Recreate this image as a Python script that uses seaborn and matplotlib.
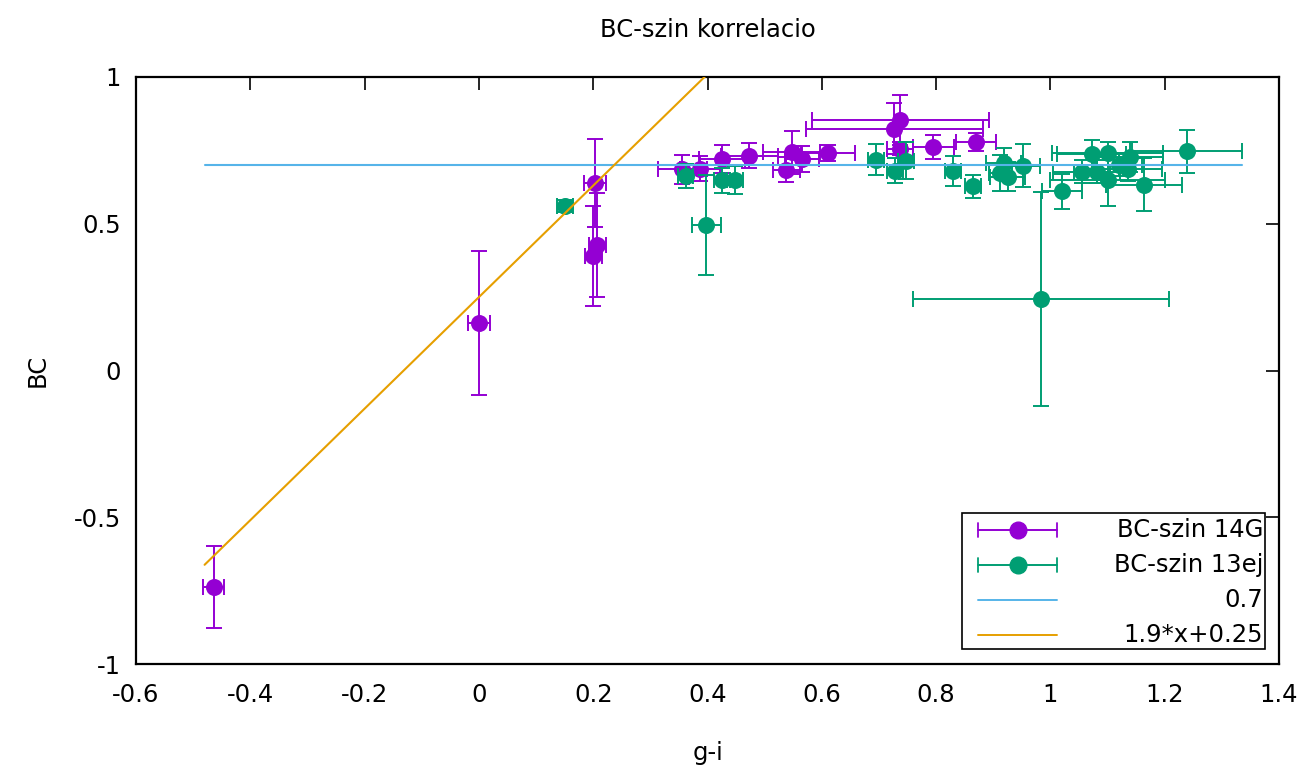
import numpy as np
import matplotlib
matplotlib.use("Agg")
import matplotlib.pyplot as plt
import seaborn as sns
import pandas as pd
from matplotlib.lines import Line2D
from matplotlib.patches import Rectangle

# ---------------- data ----------------
g14_x = [-0.464, 0.000, 0.203, 0.207, 0.200, 0.356, 0.387, 0.426, 0.473, 0.547,
         0.538, 0.565, 0.611, 0.737, 0.727, 0.737, 0.795, 0.870]
g14_y = [-0.737, 0.163, 0.639, 0.429, 0.389, 0.686, 0.688, 0.721, 0.732, 0.743,
         0.684, 0.721, 0.741, 0.855, 0.824, 0.756, 0.762, 0.779]
g14_xerr = [0.018, 0.019, 0.019, 0.015, 0.015, 0.043, 0.035, 0.040, 0.050, 0.050,
            0.023, 0.030, 0.047, 0.155, 0.155, 0.023, 0.036, 0.035]
g14_yerr = [0.140, 0.245, 0.150, 0.177, 0.170, 0.049, 0.044, 0.048, 0.043, 0.074,
            0.042, 0.043, 0.027, 0.085, 0.088, 0.023, 0.041, 0.030]

g13_x = [0.150, 0.362, 0.398, 0.425, 0.448, 0.695, 0.728, 0.748, 0.830, 0.865,
         0.912, 0.918, 0.925, 0.952, 0.983, 1.020, 1.055, 1.072, 1.081, 1.100,
         1.100, 1.120, 1.136, 1.139, 1.164, 1.239]
g13_y = [0.561, 0.662, 0.497, 0.648, 0.650, 0.718, 0.681, 0.715, 0.681, 0.627,
         0.673, 0.707, 0.660, 0.698, 0.243, 0.610, 0.678, 0.736, 0.678, 0.650,
         0.740, 0.701, 0.687, 0.727, 0.633, 0.747]
g13_xerr = [0.014, 0.013, 0.025, 0.014, 0.014, 0.014, 0.014, 0.014, 0.014, 0.014,
            0.020, 0.030, 0.030, 0.030, 0.224, 0.035, 0.050, 0.060, 0.040, 0.100,
            0.097, 0.040, 0.060, 0.058, 0.066, 0.096]
g13_yerr = [0.020, 0.040, 0.170, 0.042, 0.047, 0.053, 0.043, 0.063, 0.051, 0.040,
            0.060, 0.050, 0.050, 0.073, 0.365, 0.059, 0.040, 0.050, 0.040, 0.090,
            0.040, 0.040, 0.040, 0.050, 0.090, 0.073]

line_x = [-0.48, 1.335]        # sampling range of the two functions
const_level = 0.7
slope, intercept = 1.9, 0.25

labels = ["BC-szin 14G", "BC-szin 13ej", "0.7", "1.9*x+0.25"]
title = "BC-szin korrelacio"
xlabel, ylabel = "g-i", "BC"
xticks = [-0.6, -0.4, -0.2, 0, 0.2, 0.4, 0.6, 0.8, 1, 1.2, 1.4]
xticklabels = ["-0.6", "-0.4", "-0.2", "0", "0.2", "0.4", "0.6", "0.8", "1", "1.2", "1.4"]
yticks = [-1, -0.5, 0, 0.5, 1]
yticklabels = ["-1", "-0.5", "0", "0.5", "1"]

# ---------------- style ----------------
sns.set_theme(style="white")
plt.rcParams['font.family'] = ['DejaVu Sans']
C_PURPLE = "#9400D3"
C_GREEN = "#009E73"
C_BLUE = "#56B4E9"
C_ORANGE = "#E69F00"
FS = 17.5

fig = plt.figure(figsize=(13.10, 7.66), dpi=100)
ax = fig.add_axes([136/1310, 1-664/766, (1279-136)/1310, (664-77)/766])

ekw = dict(fmt='none', elinewidth=1.4, capsize=6, capthick=1.4)
ax.errorbar(g14_x, g14_y, xerr=g14_xerr, yerr=g14_yerr, ecolor=C_PURPLE, zorder=2, **ekw)
df14 = pd.DataFrame({"x": g14_x, "y": g14_y})
sns.scatterplot(data=df14, x="x", y="y", color=C_PURPLE, s=150, linewidth=0,
                ax=ax, zorder=3, legend=False)
ax.errorbar(g13_x, g13_y, xerr=g13_xerr, yerr=g13_yerr, ecolor=C_GREEN, zorder=4, **ekw)
df13 = pd.DataFrame({"x": g13_x, "y": g13_y})
sns.scatterplot(data=df13, x="x", y="y", color=C_GREEN, s=150, linewidth=0,
                ax=ax, zorder=5, legend=False)

lx = np.linspace(line_x[0], line_x[1], 200)
dfl = pd.DataFrame({"x": lx, "c": np.full_like(lx, const_level), "f": slope*lx + intercept})
sns.lineplot(data=dfl, x="x", y="c", color=C_BLUE, lw=1.5, ax=ax, zorder=6)
sns.lineplot(data=dfl, x="x", y="f", color=C_ORANGE, lw=1.5, ax=ax, zorder=6)

ax.set_xlim(-0.6, 1.4)
ax.set_ylim(-1, 1)
ax.set_xticks(xticks)
ax.set_xticklabels(xticklabels)
ax.set_yticks(yticks)
ax.set_yticklabels(yticklabels)
ax.tick_params(direction='in', length=9.5, width=1.2, top=True, right=True,
               labelsize=FS, colors='black', pad=14)
ax.tick_params(axis='y', pad=11)
for s in ax.spines.values():
    s.set_visible(True)
    s.set_color('black')
    s.set_linewidth(1.6)
ax.set_xlabel(xlabel, fontsize=FS, labelpad=24, color='black')
ax.set_ylabel(ylabel, fontsize=FS, labelpad=17, color='black')
ax.set_title(title, fontsize=FS, pad=29, color='black')
ax.grid(False)

# ---------------- gnuplot-style key (axes fraction coordinates) ----------------
T = ax.transAxes
box_l, box_r, box_b, box_t = 0.7227, 0.9878, 0.0256, 0.2572
ax.add_patch(Rectangle((box_l, box_b), box_r - box_l, box_t - box_b, transform=T,
                       facecolor='white', edgecolor='black', lw=1.2, zorder=10))
row_y = [0.2283, 0.1687, 0.1090, 0.0494]
hx0, hx1 = 0.7367, 0.8058
txt_r = 0.9860
cap_h = 0.012
colors = [C_PURPLE, C_GREEN, C_BLUE, C_ORANGE]
for i, (lab, col) in enumerate(zip(labels, colors)):
    y = row_y[i]
    ax.add_line(Line2D([hx0, hx1], [y, y], color=col, lw=1.4, transform=T, zorder=11))
    if i < 2:
        for xx in (hx0, hx1):
            ax.add_line(Line2D([xx, xx], [y - cap_h, y + cap_h], color=col, lw=1.3,
                               transform=T, zorder=11))
        ax.add_line(Line2D([(hx0 + hx1) / 2], [y], color=col, marker='o', ms=12,
                           lw=0, transform=T, zorder=12))
    ax.text(txt_r, y, lab, transform=T, ha='right', va='center', fontsize=FS,
            color='black', zorder=12)

fig.savefig("out.png", dpi=100)
